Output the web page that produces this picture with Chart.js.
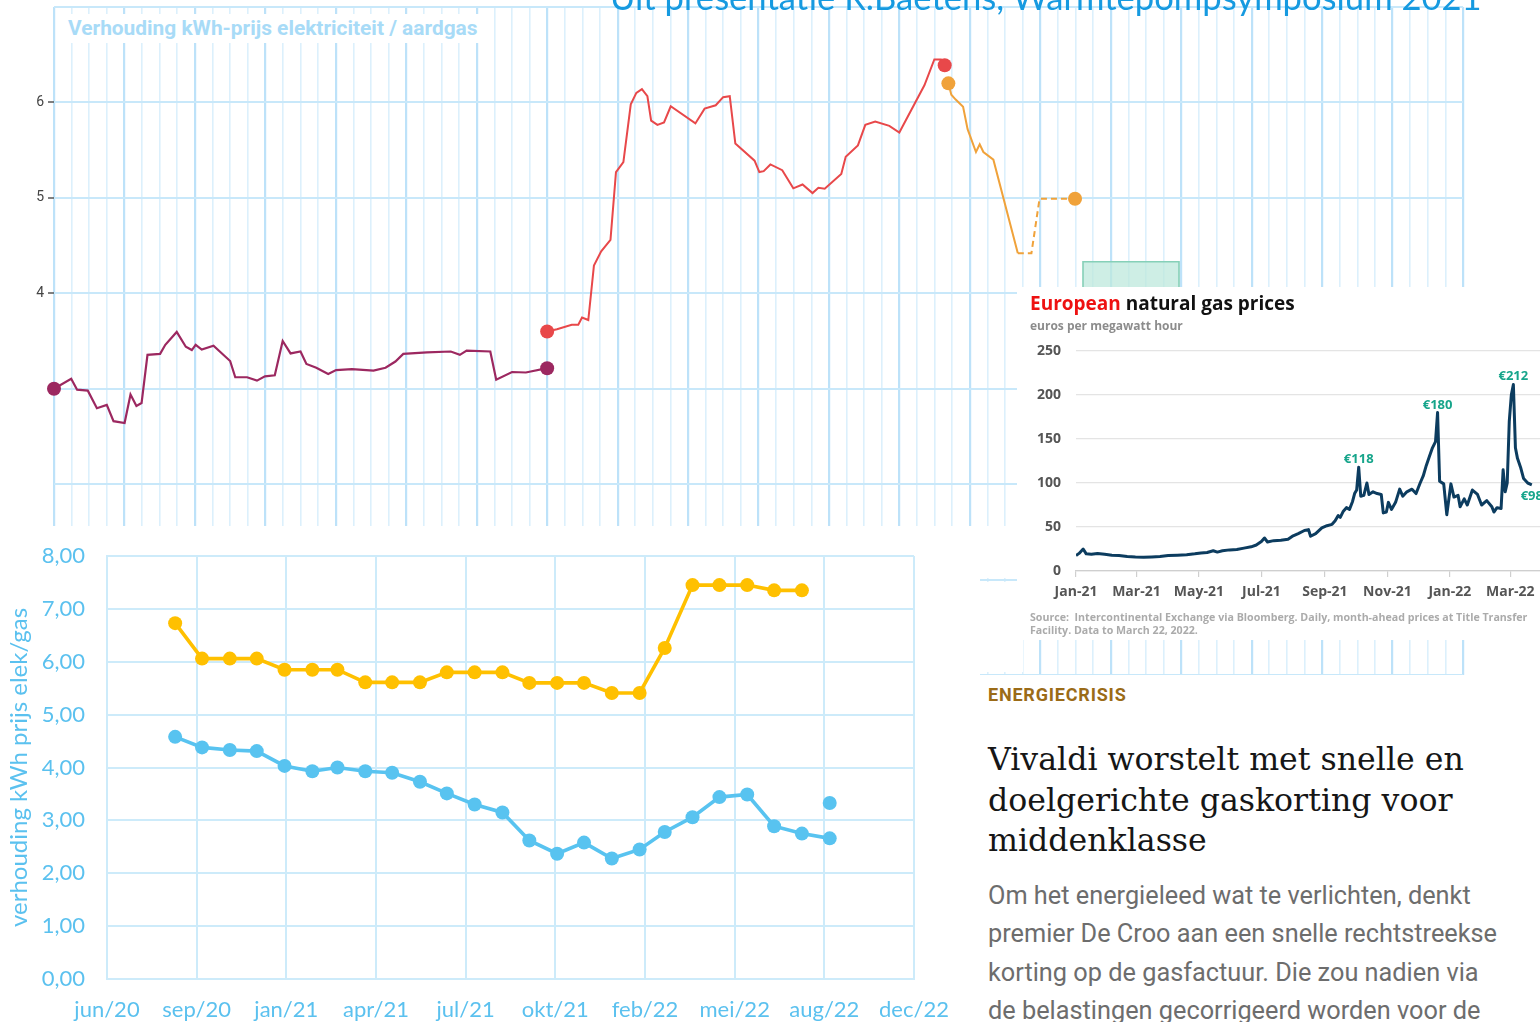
<!DOCTYPE html>
<html lang="nl">
<head>
<meta charset="utf-8">
<title>Verhouding kWh-prijs elektriciteit / aardgas</title>
<script src="https://cdn.jsdelivr.net/npm/chart.js"></script>
<style>
  html, body { margin: 0; padding: 0; background: #fff; }
  body { position: relative; width: 1540px; height: 1022px; overflow: hidden; }
  .abs { position: absolute; }
  .white { background: #fff; }
  canvas { display: block; }
  #ratioChart { left: 0; top: 0; }
  #ratioTitle { left: 56px; top: 14px; width: 426px; height: 29px; padding-left: 12px; box-sizing: border-box;
    font: 700 20.9px Roboto, sans-serif; line-height: 29px; color: #a8dbf7; white-space: nowrap; }
  #heading { left: 610px; top: -20px; font: 400 34.6px Lato, sans-serif; line-height: 34px; color: #169ae0; white-space: nowrap; }
  #monthlyBox { left: 0; top: 526px; width: 980px; height: 496px; }
  #gasBox { left: 1017px; top: 287px; width: 523px; height: 353px; overflow: hidden; }
  #gasBox canvas { position: absolute; left: 0; top: 0; }
  #gasTitle { left: 13px; top: 7px; font: 700 19px "Open Sans", sans-serif; line-height: 19px; color: #111; white-space: nowrap; }
  #gasTitle span { color: #ee1111; }
  #gasSub { left: 13px; top: 33px; font: 700 12px "Open Sans", sans-serif; line-height: 12px; color: #8c8c8c; white-space: nowrap; }
  #gasSource { left: 13px; top: 324px; font: 700 10.65px "Open Sans", sans-serif; line-height: 12.7px; color: #ababab; white-space: nowrap; }
  #article { left: 980px; top: 675px; width: 560px; height: 347px; }
  #kicker { left: 8px; top: 11px; font: 700 18px Roboto, sans-serif; line-height: 18px; letter-spacing: 0.8px; color: #9b6b17; }
  #headline { left: 8px; top: 64px; font: 400 31.6px "DejaVu Serif", serif; line-height: 40.7px; color: #161616; white-space: nowrap; }
  #lead { left: 8px; top: 202px; font: 400 25.3px Roboto, sans-serif; line-height: 38.4px; color: #6d6d6d; white-space: nowrap; }
</style>
</head>
<body>
<canvas id="ratioChart" class="abs" width="1540" height="700"></canvas>
<div id="ratioTitle" class="abs white">Verhouding kWh-prijs elektriciteit / aardgas</div>
<div id="heading" class="abs">Uit presentatie R.Baetens, Warmtepompsymposium 2021</div>

<div class="abs white" style="left:980px;top:526px;width:37px;height:52px"></div>
<div class="abs white" style="left:980px;top:582px;width:43px;height:90px"></div>

<div id="monthlyBox" class="abs white"><canvas id="monthlyChart" width="980" height="496"></canvas></div>

<div id="gasBox" class="abs white">
  <canvas id="gasChart" width="523" height="353"></canvas>
  <div id="gasTitle" class="abs"><span>European</span> natural gas prices</div>
  <div id="gasSub" class="abs">euros per megawatt hour</div>
  <div id="gasSource" class="abs">Source:&nbsp; Intercontinental Exchange via Bloomberg. Daily, month-ahead prices at Title Transfer<br>Facility. Data to March 22, 2022.</div>
</div>

<div id="article" class="abs white">
  <div id="kicker" class="abs">ENERGIECRISIS</div>
  <div id="headline" class="abs">Vivaldi worstelt met snelle en<br>doelgerichte gaskorting voor<br>middenklasse</div>
  <div id="lead" class="abs">Om het energieleed wat te verlichten, denkt<br>premier De Croo aan een snelle rechtstreekse<br>korting op de gasfactuur. Die zou nadien via<br>de belastingen gecorrigeerd worden voor de</div>
</div>

<script>
// ---------- Ratio electricity / gas, three periods (x = months from start, y = ratio) ----------
const ratioA_t = [0, 0.244, 0.328, 0.48, 0.609, 0.749, 0.845, 1.002, 1.086, 1.17, 1.243, 1.327, 1.506, 1.58, 1.742, 1.871, 1.956, 2.011, 2.097, 2.264, 2.5, 2.573, 2.741, 2.881, 2.994, 3.134, 3.246, 3.358, 3.499, 3.583, 3.723, 3.892, 4.004, 4.229, 4.535, 4.706, 4.846, 4.958, 5.294, 5.632, 5.761, 5.857, 6.193, 6.277, 6.502, 6.698, 7.0];
const ratioA_v = [3.00, 3.105, 2.99, 2.98, 2.795, 2.83, 2.66, 2.64, 2.94, 2.82, 2.85, 3.355, 3.365, 3.46, 3.595, 3.44, 3.405, 3.46, 3.41, 3.45, 3.29, 3.12, 3.12, 3.085, 3.13, 3.14, 3.50, 3.37, 3.39, 3.26, 3.22, 3.155, 3.195, 3.205, 3.19, 3.22, 3.285, 3.365, 3.38, 3.39, 3.355, 3.40, 3.39, 3.095, 3.175, 3.17, 3.215];
const ratioB_t = [7.0, 7.139, 7.349, 7.442, 7.495, 7.584, 7.664, 7.767, 7.899, 7.977, 8.082, 8.187, 8.266, 8.345, 8.423, 8.476, 8.565, 8.659, 8.754, 9.104, 9.235, 9.393, 9.498, 9.592, 9.671, 9.944, 10.012, 10.074, 10.169, 10.337, 10.494, 10.625, 10.767, 10.85, 10.94, 11.175, 11.238, 11.411, 11.516, 11.657, 11.857, 11.999, 12.355, 12.496, 12.591, 12.643];
const ratioB_v = [3.60, 3.624, 3.67, 3.67, 3.745, 3.72, 4.29, 4.44, 4.56, 5.27, 5.375, 5.98, 6.10, 6.14, 6.065, 5.81, 5.765, 5.79, 5.96, 5.78, 5.935, 5.97, 6.055, 6.065, 5.57, 5.39, 5.27, 5.28, 5.35, 5.29, 5.10, 5.14, 5.05, 5.105, 5.095, 5.25, 5.43, 5.55, 5.765, 5.80, 5.755, 5.685, 6.18, 6.45, 6.45, 6.39];
const ratioC_t = [12.695, 12.737, 12.799, 12.904, 12.968, 13.087, 13.14, 13.192, 13.334, 13.681, 13.874, 13.989, 14.493];
const ratioC_v = [6.20, 6.08, 6.03, 5.955, 5.72, 5.48, 5.56, 5.48, 5.40, 4.42, 4.42, 4.99, 4.99];
const ratioC_estimateFrom = 9;          // segments from this point on are estimates (dashed)
const bandT = [14.606, 15.969];         // shaded range
const bandRange = [2, 4.33];
const ratioLabelledTicks = [4, 5, 6];

// ---------- Monthly ratio kWh-price electricity / gas ----------
const monthlyMonths = ['2020-08','2020-09','2020-10','2020-11','2020-12','2021-01','2021-02','2021-03','2021-04','2021-05','2021-06','2021-07','2021-08','2021-09','2021-10','2021-11','2021-12','2022-01','2022-02','2022-03','2022-04','2022-05','2022-06','2022-07','2022-08'];
const ratioGold = [6.73, 6.06, 6.06, 6.06, 5.85, 5.85, 5.85, 5.61, 5.61, 5.61, 5.80, 5.80, 5.80, 5.60, 5.60, 5.60, 5.41, 5.41, 6.26, 7.45, 7.45, 7.45, 7.35, 7.35];
const ratioBlue = [4.58, 4.38, 4.33, 4.31, 4.03, 3.93, 4.00, 3.93, 3.90, 3.73, 3.51, 3.30, 3.15, 2.62, 2.37, 2.58, 2.28, 2.45, 2.78, 3.06, 3.44, 3.49, 2.89, 2.75, 2.66];
const ratioBlueExtraMonth = '2022-08';
const ratioBlueExtra = 3.33;
const monthlyAxisStart = '2020-06-16';
const monthlyTickLabels = ['jun/20','sep/20','jan/21','apr/21','jul/21','okt/21','feb/22','mei/22','aug/22','dec/22'];

// ---------- European natural gas prices (EUR/MWh, TTF month-ahead) ----------
const gasDates = ['2021-01-01','2021-01-04','2021-01-08','2021-01-11','2021-01-16','2021-01-22','2021-01-29','2021-02-05','2021-02-12','2021-02-20','2021-02-28','2021-03-08','2021-03-16','2021-03-24','2021-04-01','2021-04-10','2021-04-19','2021-04-27','2021-05-03','2021-05-09','2021-05-15','2021-05-19','2021-05-24','2021-05-31','2021-06-07','2021-06-14','2021-06-21','2021-06-26','2021-07-01','2021-07-04','2021-07-07','2021-07-13','2021-07-20','2021-07-27','2021-08-01','2021-08-06','2021-08-12','2021-08-16','2021-08-18','2021-08-23','2021-08-29','2021-09-03','2021-09-08','2021-09-11','2021-09-14','2021-09-16','2021-09-19','2021-09-22','2021-09-25','2021-09-28','2021-09-30','2021-10-02','2021-10-04','2021-10-06','2021-10-09','2021-10-12','2021-10-14','2021-10-18','2021-10-22','2021-10-26','2021-10-28','2021-10-31','2021-11-02','2021-11-05','2021-11-09','2021-11-13','2021-11-16','2021-11-20','2021-11-25','2021-11-29','2021-12-03','2021-12-06','2021-12-09','2021-12-12','2021-12-15','2021-12-18','2021-12-20','2021-12-22','2021-12-26','2021-12-29','2022-01-02','2022-01-05','2022-01-09','2022-01-11','2022-01-15','2022-01-18','2022-01-23','2022-01-28','2022-02-01','2022-02-06','2022-02-11','2022-02-13','2022-02-16','2022-02-20','2022-02-22','2022-02-24','2022-02-26','2022-02-28','2022-03-02','2022-03-04','2022-03-06','2022-03-08','2022-03-11','2022-03-14','2022-03-18','2022-03-22'];
const gasPrices = [17.5, 20, 25, 19.5, 19, 20, 19, 18, 17.5, 16.5, 15.8, 15.5, 16, 16.5, 17.5, 18, 18.5, 19.5, 20.5, 21, 23, 21.5, 23, 24, 24.5, 26, 27.5, 29.5, 33.5, 37.5, 33, 34.5, 35, 36, 40, 42.5, 46, 47, 39.5, 42.5, 49, 51.5, 53, 57, 63, 61, 68, 72, 70, 79, 88, 92, 118, 85, 86, 100, 87, 90, 88, 87, 66, 67, 78, 70, 78, 93, 85, 90, 93, 88, 100, 108, 120, 130, 140, 147, 180, 102, 99, 64, 99, 84, 86, 73, 82, 75, 92, 87, 75, 80, 73, 67, 72, 71, 115, 90, 100, 170, 200, 212, 140, 128, 118, 105, 100, 98];
const gasCalloutDates = ['2021-10-04', '2021-12-20', '2022-03-04', '2022-03-22'];
const gasTickDates = ['2021-01-01','2021-03-01','2021-05-01','2021-07-01','2021-09-01','2021-11-01','2022-01-01','2022-03-01'];
const gasTickLabels = ['Jan-21','Mar-21','May-21','Jul-21','Sep-21','Nov-21','Jan-22','Mar-22'];

// ---------- helpers ----------
const DAY = 86400000;
const dayNo = s => Date.UTC(+s.slice(0, 4), +s.slice(5, 7) - 1, s.length > 7 ? +s.slice(8, 10) : 1) / DAY;
const monthEndNo = s => Date.UTC(+s.slice(0, 4), +s.slice(5, 7), 0) / DAY;
const toXY = (ts, vs) => ts.map((t, i) => ({ x: t, y: vs[i] }));
const endDots = (n, r) => Array.from({ length: n }, (_, i) => (i === 0 || i === n - 1) ? r : 0);
const common = { responsive: false, animation: false, devicePixelRatio: 1, events: [],
  plugins: { legend: { display: false }, tooltip: { enabled: false } } };

// ---------- top chart ----------
const purple = '#9c2860', red = '#e8484a', orange = '#f0a23a';
new Chart(document.getElementById('ratioChart'), {
  type: 'line',
  data: { datasets: [
    { data: [{ x: bandT[0], y: bandRange[0] }, { x: bandT[0], y: bandRange[1] }, { x: bandT[1], y: bandRange[1] }, { x: bandT[1], y: bandRange[0] }],
      borderColor: '#86d0b8', backgroundColor: 'rgba(190,232,220,0.75)', borderWidth: 1.6, pointRadius: 0, fill: { value: bandRange[0] } },
    { data: toXY(ratioA_t, ratioA_v), borderColor: purple, backgroundColor: purple, borderWidth: 2.2, clip: 10,
      pointRadius: endDots(ratioA_t.length, 7), pointBorderWidth: 0 },
    { data: toXY(ratioB_t, ratioB_v), borderColor: red, backgroundColor: red, borderWidth: 2, clip: 10,
      pointRadius: endDots(ratioB_t.length, 7), pointBorderWidth: 0 },
    { data: toXY(ratioC_t, ratioC_v), borderColor: orange, backgroundColor: orange, borderWidth: 2, clip: 10,
      pointRadius: endDots(ratioC_t.length, 7), pointBorderWidth: 0,
      segment: { borderDash: ctx => ctx.p0DataIndex >= ratioC_estimateFrom ? [6, 4] : undefined } }
  ] },
  options: { ...common,
    layout: { padding: { top: 2, right: 77, left: 0, bottom: 0 } },
    scales: {
      x: { type: 'linear', min: 0, max: 20,
        afterBuildTicks: s => { s.ticks = Array.from({ length: 81 }, (_, i) => ({ value: i / 4 })); },
        ticks: { display: false, autoSkip: false },
        grid: { drawTicks: false,
          color: c => Number.isInteger(c.tick.value) ? '#bde2f9' : '#dcf0fc',
          lineWidth: c => Number.isInteger(c.tick.value) ? 2.2 : 1.6 },
        border: { display: false },
        afterFit: s => { s.height = 25; s.paddingLeft = 0; s.paddingRight = 0; } },
      y: { min: 0, max: 7,
        ticks: { stepSize: 1, padding: 4, color: '#444', font: { family: 'Roboto', size: 14 },
          callback: v => ratioLabelledTicks.includes(v) ? String(v) : '' },
        grid: { color: '#c8e8fa', lineWidth: 2, tickLength: 6, tickWidth: 1.5,
          tickColor: c => ratioLabelledTicks.includes(c.tick.value) ? '#555' : 'rgba(0,0,0,0)' },
        border: { display: false },
        afterFit: s => { s.width = 54; s.paddingTop = 0; s.paddingBottom = 0; } }
    } }
});

// ---------- monthly chart ----------
const monthly0 = dayNo(monthlyAxisStart);
const mx = m => monthEndNo(m) - monthly0;
const lightBlue = '#5bc1ef', gold = '#ffc000', sky = '#58c3f0', gridBlue = '#cdebfa';
new Chart(document.getElementById('monthlyChart'), {
  type: 'line',
  data: { datasets: [
    { data: ratioGold.map((v, i) => ({ x: mx(monthlyMonths[i]), y: v })), borderColor: gold, backgroundColor: gold,
      borderWidth: 3.6, pointRadius: 7, pointBorderWidth: 0 },
    { data: ratioBlue.map((v, i) => ({ x: mx(monthlyMonths[i]), y: v })), borderColor: sky, backgroundColor: sky,
      borderWidth: 3.6, pointRadius: 7, pointBorderWidth: 0 },
    { data: [{ x: mx(ratioBlueExtraMonth), y: ratioBlueExtra }], showLine: false, backgroundColor: sky,
      borderColor: sky, pointRadius: 7, pointBorderWidth: 0 }
  ] },
  options: { ...common,
    layout: { padding: { top: 30, right: 66, left: 0, bottom: 0 } },
    scales: {
      x: { type: 'linear', min: 0, max: 900,
        afterBuildTicks: s => { s.ticks = monthlyTickLabels.map((_, i) => ({ value: i * 100 })); },
        ticks: { autoSkip: false, maxRotation: 0, padding: 18, color: lightBlue, font: { family: 'Lato', size: 22 },
          callback: (v, i) => monthlyTickLabels[i] },
        grid: { color: gridBlue, lineWidth: 2, drawTicks: false },
        border: { color: gridBlue, width: 2 },
        afterFit: s => { s.height = 43; } },
      y: { min: 0, max: 8,
        ticks: { stepSize: 1, padding: 22, color: lightBlue, font: { family: 'Lato', size: 22 },
          callback: v => v.toFixed(2).replace('.', ',') },
        grid: { color: gridBlue, lineWidth: 2, drawTicks: false },
        border: { color: gridBlue, width: 2 },
        title: { display: true, text: 'verhouding kWh prijs elek/gas', color: lightBlue,
          font: { family: 'Lato', size: 24 }, padding: { top: 5, bottom: 0 } },
        afterFit: s => { s.width = 107; s.paddingTop = 0; s.paddingBottom = 0; } }
    } }
});

// ---------- gas price chart ----------
const gas0 = dayNo(gasDates[0]);
const calloutPlugin = {
  id: 'priceCallouts',
  afterDatasetsDraw(chart) {
    const ctx = chart.ctx, pts = chart.getDatasetMeta(0).data;
    ctx.save();
    ctx.font = '700 13px "Open Sans"';
    ctx.fillStyle = '#17a58b';
    ctx.textAlign = 'center';
    gasCalloutDates.forEach(d => {
      const i = gasDates.indexOf(d);
      const p = pts[i];
      const text = '€' + gasPrices[i];
      if (i === gasPrices.length - 1) { ctx.textBaseline = 'top'; ctx.fillText(text, p.x, p.y + 5); }
      else { ctx.textBaseline = 'alphabetic'; ctx.fillText(text, p.x, p.y - 4); }
    });
    ctx.restore();
  }
};
new Chart(document.getElementById('gasChart'), {
  type: 'line',
  data: { datasets: [
    { data: gasPrices.map((v, i) => ({ x: dayNo(gasDates[i]) - gas0, y: v })), borderColor: '#0c3c5f',
      borderWidth: 3, pointRadius: 0, borderJoinStyle: 'round' }
  ] },
  options: { ...common,
    layout: { padding: { top: 64, right: 0, left: 0, bottom: 0 } },
    scales: {
      x: { type: 'linear', min: 0, max: 453,
        afterBuildTicks: s => { s.ticks = gasTickDates.map(d => ({ value: dayNo(d) - gas0 })); },
        ticks: { autoSkip: false, maxRotation: 0, padding: 7, color: '#555',
          font: { family: 'Open Sans', size: 14, weight: 'bold' }, callback: (v, i) => gasTickLabels[i] },
        grid: { drawOnChartArea: false, drawTicks: true, tickLength: 6, color: '#cfcfcf', lineWidth: 1.2 },
        border: { color: '#cfcfcf', width: 1.2 },
        afterFit: s => { s.height = 69; s.paddingLeft = 0; s.paddingRight = 0; } },
      y: { min: 0, max: 250,
        ticks: { stepSize: 50, padding: 15, color: '#555', font: { family: 'Open Sans', size: 14, weight: 'bold' } },
        grid: { color: '#e4e4e4', lineWidth: 1.3, drawTicks: false },
        border: { display: false },
        afterFit: s => { s.width = 59; s.paddingTop = 0; s.paddingBottom = 0; } }
    } },
  plugins: [calloutPlugin]
});
</script>
</body>
</html>
